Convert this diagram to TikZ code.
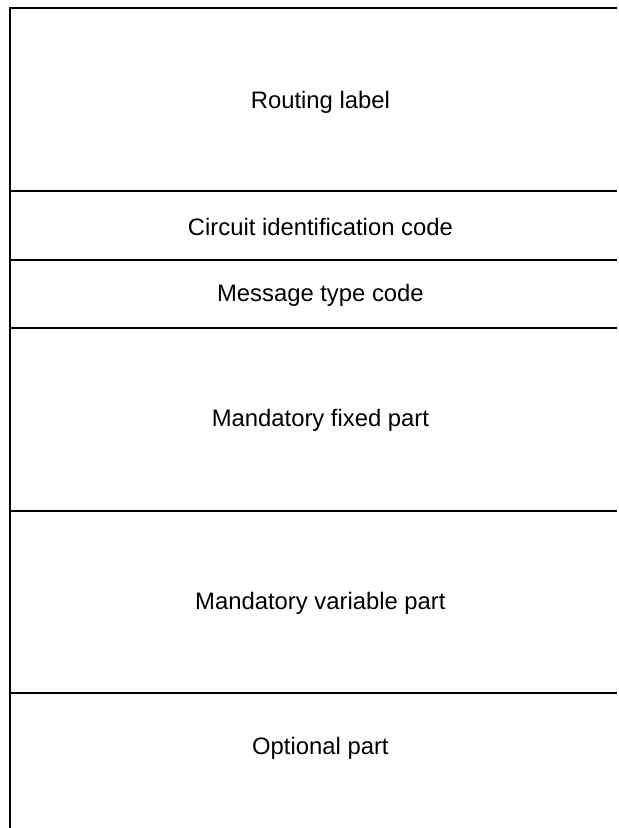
\documentclass[tikz,border=0pt]{standalone}
\usepackage{fontspec}
\setmainfont{Liberation Sans}

\begin{document}
\begin{tikzpicture}[line width=1.15pt,
    field/.style={font=\fontsize{11.3}{13.5}\selectfont}]
      \useasboundingbox (0, 0) rectangle (10.3, 13.8);

      % outline: left side and top, open at right and bottom
      \draw (0.167, 0) -- (0.167, 13.667) -- (10.283, 13.667);

      % separators between fields
      \draw (0.167, 10.617) -- (10.283, 10.617);
      \draw (0.167, 9.467) -- (10.283, 9.467);
      \draw (0.167, 8.333) -- (10.283, 8.333);
      \draw (0.167, 5.283) -- (10.283, 5.283);
      \draw (0.167, 2.25) -- (10.283, 2.25);

      \node[field] (routing) at (5.34, 12.1) {Routing label};
      \node[field] (cic) at (5.34, 10.02) {Circuit identification code};
      \node[field] (msgtype) at (5.34, 8.88) {Message type code};
      \node[field] (fixed) at (5.34, 6.79) {Mandatory fixed part};
      \node[field] (variable) at (5.34, 3.74) {Mandatory variable part};
      \node[field] (optional) at (5.34, 1.33) {Optional part};
    \end{tikzpicture}
\end{document}
